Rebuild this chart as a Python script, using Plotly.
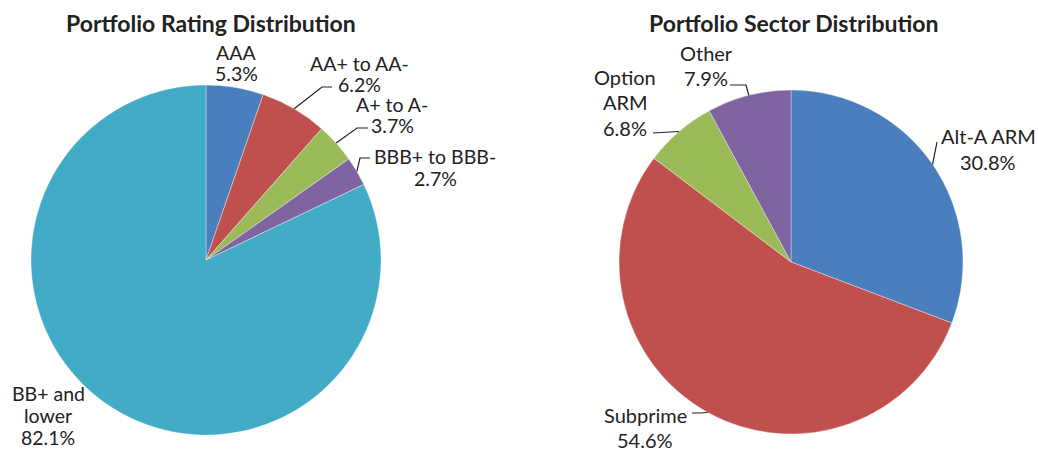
import math
import plotly.graph_objects as go

W, H = 1038, 453

# rating pie
rating_labels = ["AAA", "AA+ to AA-", "A+ to A-", "BBB+ to BBB-", "BB+ and<br>lower"]
rating_values = [5.3, 6.2, 3.7, 2.7, 82.1]
rating_colors = ["#4A7EBD", "#C0504D", "#9BBB59", "#8064A2", "#42ABC6"]

# sector pie
sector_labels = ["Alt-A ARM", "Subprime", "Option<br>ARM", "Other"]
sector_values = [30.8, 54.6, 6.8, 7.9]
sector_colors = ["#4A7EBD", "#C0504D", "#9BBB59", "#8064A2"]

# layout (pixels)
rating_box = (31, 85, 381, 435)      # x0, y0, x1, y1
sector_box = (619, 90, 963, 434)
rating_text_pos = [(236, 63), (359, 74), (392, 115), (435, 167), (48, 415)]
sector_text_pos = [(988, 149), (645, 427.5), (625, 102.5), (706, 65.5)]
rating_leaders = [None, [(322, 87), (332, 87)], [(357, 128), (368, 128)],
                  [(360, 158), (370, 158)], None]
sector_leaders = [[(937, 142)], [(700, 413), (692, 413)],
                  [(670, 132), (653, 133)], [(746, 85), (730, 85)]]

FONT = "Lato, Open Sans, sans-serif"
INK = "#222222"


def px(x, y):
    return x / W, 1 - y / H


def pie(labels, values, colors, box):
    x0, y0, x1, y1 = box
    return go.Pie(
        labels=labels, values=values, sort=False, direction="clockwise",
        rotation=0, textinfo="none", hoverinfo="label+percent",
        marker=dict(colors=colors, line=dict(color="rgba(255,255,255,0.6)", width=0.6)),
        domain=dict(x=[x0 / W, x1 / W], y=[1 - y1 / H, 1 - y0 / H]),
        showlegend=False,
    )


fig = go.Figure([
    pie(rating_labels, rating_values, rating_colors, rating_box),
    pie(sector_labels, sector_values, sector_colors, sector_box),
])

annotations = []
shapes = []


def add_labels(labels, values, box, text_pos, leaders, size, pitch):
    x0, y0, x1, y1 = box
    cx, cy = (x0 + x1) / 2, (y0 + y1) / 2
    r = min(x1 - x0, y1 - y0) / 2
    total = sum(values)
    cum = 0
    for lab, v, (tx, ty), lead in zip(labels, values, text_pos, leaders):
        mid = (cum + v / 2) / total * 2 * math.pi
        cum += v
        lines = lab.split("<br>") + [f"{v:.1f}%"]
        top = ty - pitch * (len(lines) - 1) / 2
        for i, line in enumerate(lines):
            ax, ay = px(tx, top + i * pitch)
            annotations.append(dict(
                x=ax, y=ay, xref="paper", yref="paper", showarrow=False,
                xanchor="center", yanchor="middle", text=line,
                font=dict(family=FONT, size=size, color=INK),
            ))
        if lead:
            pts = [(cx + r * math.sin(mid), cy - r * math.cos(mid))] + lead
            path = "M " + " L ".join("{:.5f},{:.5f}".format(*px(x, y)) for x, y in pts)
            shapes.append(dict(type="path", path=path, xref="paper", yref="paper",
                               line=dict(color=INK, width=1.2)))


add_labels(rating_labels, rating_values, rating_box, rating_text_pos, rating_leaders, 19.5, 22)
add_labels(sector_labels, sector_values, sector_box, sector_text_pos, sector_leaders, 20, 25.5)

for title, (tx, ty) in [("Portfolio Rating Distribution", (211, 23)),
                         ("Portfolio Sector Distribution", (793, 23))]:
    x, y = px(tx, ty)
    annotations.append(dict(
        x=x, y=y, xref="paper", yref="paper", showarrow=False,
        xanchor="center", yanchor="middle", text=f"<b>{title}</b>",
        font=dict(family=FONT, size=23, color=INK),
    ))

fig.update_layout(
    width=W, height=H, margin=dict(l=0, r=0, t=0, b=0),
    paper_bgcolor="white", plot_bgcolor="white",
    annotations=annotations, shapes=shapes,
)

fig.write_html("out.html", config={"displayModeBar": False},
               post_script="document.body.style.margin='0';")
